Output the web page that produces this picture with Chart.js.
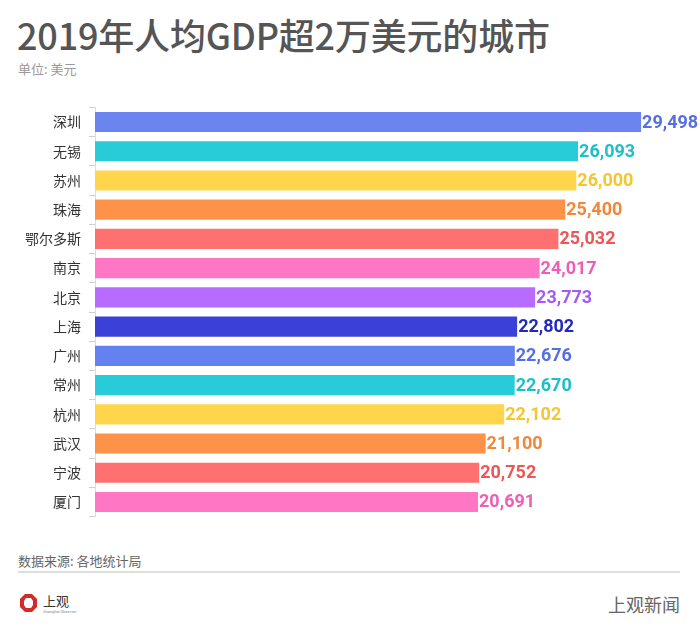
<!DOCTYPE html>
<html>
<head>
<meta charset="utf-8">
<script src="https://cdn.jsdelivr.net/npm/chart.js@4.4.1/dist/chart.umd.min.js"></script>
<style>
  html,body{margin:0;padding:0;background:#fff;}
  body{width:700px;height:636px;position:relative;overflow:hidden;font-family:"Noto Sans CJK SC","Noto Sans",sans-serif;}
  #title{position:absolute;left:17px;top:9px;font-size:36px;font-weight:500;color:#555;letter-spacing:-0.2px;line-height:50px;white-space:nowrap;}
  #sub{position:absolute;left:18px;top:59px;font-size:13px;color:#999;line-height:20px;}
  #wrap{position:absolute;left:0;top:91px;width:700px;height:442px;}
  #src{position:absolute;left:18px;top:551px;font-size:13px;color:#666;line-height:20px;}
  #rule{position:absolute;left:18px;top:571px;width:662px;height:2px;background:#dedede;}
  #brand{position:absolute;right:20px;top:592px;font-size:18px;color:#666;line-height:24px;}
  #logo{position:absolute;left:18px;top:592px;}
</style>
</head>
<body>
<div id="title">2019年人均GDP超2万美元的城市</div>
<div id="sub">单位: 美元</div>
<div id="wrap"><canvas id="c"></canvas></div>
<div id="src">数据来源: 各地统计局</div>
<div id="rule"></div>
<div id="logo">
  <svg width="70" height="24" viewBox="0 0 70 24">
    <polygon points="7,2 14,2 19,7 19,15 14,20 7,20 2,15 2,7" fill="#d42a2a"/>
    <polygon points="8,6 13,6 15,9 15,13 13,16 8,16 6,13 6,9" fill="#fff"/>
    <text x="25" y="14" font-size="13" fill="#333" font-family="Noto Sans CJK SC">上观</text>
    <text x="25" y="21" font-size="4" fill="#888" font-family="Roboto">Shanghai Observer</text>
  </svg>
</div>
<div id="brand">上观新闻</div>
<script>
const categories = ["深圳","无锡","苏州","珠海","鄂尔多斯","南京","北京","上海","广州","常州","杭州","武汉","宁波","厦门"];
const values = [29498,26093,26000,25400,25032,24017,23773,22802,22676,22670,22102,21100,20752,20691];
const barColors = ["#6b84ef","#27ccd8","#ffd54c","#ff9249","#ff7070","#ff76c5","#b86cff","#3a40d8","#6481f0","#27ccd8","#ffd54c","#ff9249","#ff7070","#ff76c5"];
const labelColors = ["#566fe0","#1dbfcb","#f5c630","#f0873b","#ec5656","#ee5eb3","#a55af5","#2329b8","#566fe0","#1dbfcb","#f5c630","#f0873b","#ec5656","#ee5eb3"];

const valueLabels = {
  id:'valueLabels',
  afterDatasetsDraw(chart){
    const ctx = chart.ctx;
    const meta = chart.getDatasetMeta(0);
    ctx.save();
    ctx.font = "700 18px Roboto";
    ctx.textAlign = "left";
    ctx.textBaseline = "middle";
    meta.data.forEach((bar,i)=>{
      ctx.fillStyle = labelColors[i];
      ctx.fillText(values[i].toLocaleString('en-US'), bar.x + 1, bar.y + 1);
    });
    ctx.restore();
  }
};

new Chart(document.getElementById('c'),{
  type:'bar',
  data:{labels:categories,datasets:[{data:values,backgroundColor:barColors,borderWidth:0,categoryPercentage:1,barPercentage:0.69}]},
  options:{
    indexAxis:'y',
    responsive:true,
    maintainAspectRatio:false,
    animation:false,
    layout:{padding:{top:7,bottom:1,left:0,right:20}},
    plugins:{legend:{display:false},tooltip:{enabled:false}},
    scales:{
      x:{display:false,min:0,max:31600},
      y:{
        afterFit(s){s.width=95;},
        border:{color:'#dcdcdc',width:1},
        grid:{drawOnChartArea:false,drawTicks:true,tickLength:6,color:'#cfcfcf'},
        ticks:{color:'#333',font:{size:14,family:"Noto Sans CJK SC"},padding:8}
      }
    }
  },
  plugins:[valueLabels]
});
</script>
</body>
</html>
